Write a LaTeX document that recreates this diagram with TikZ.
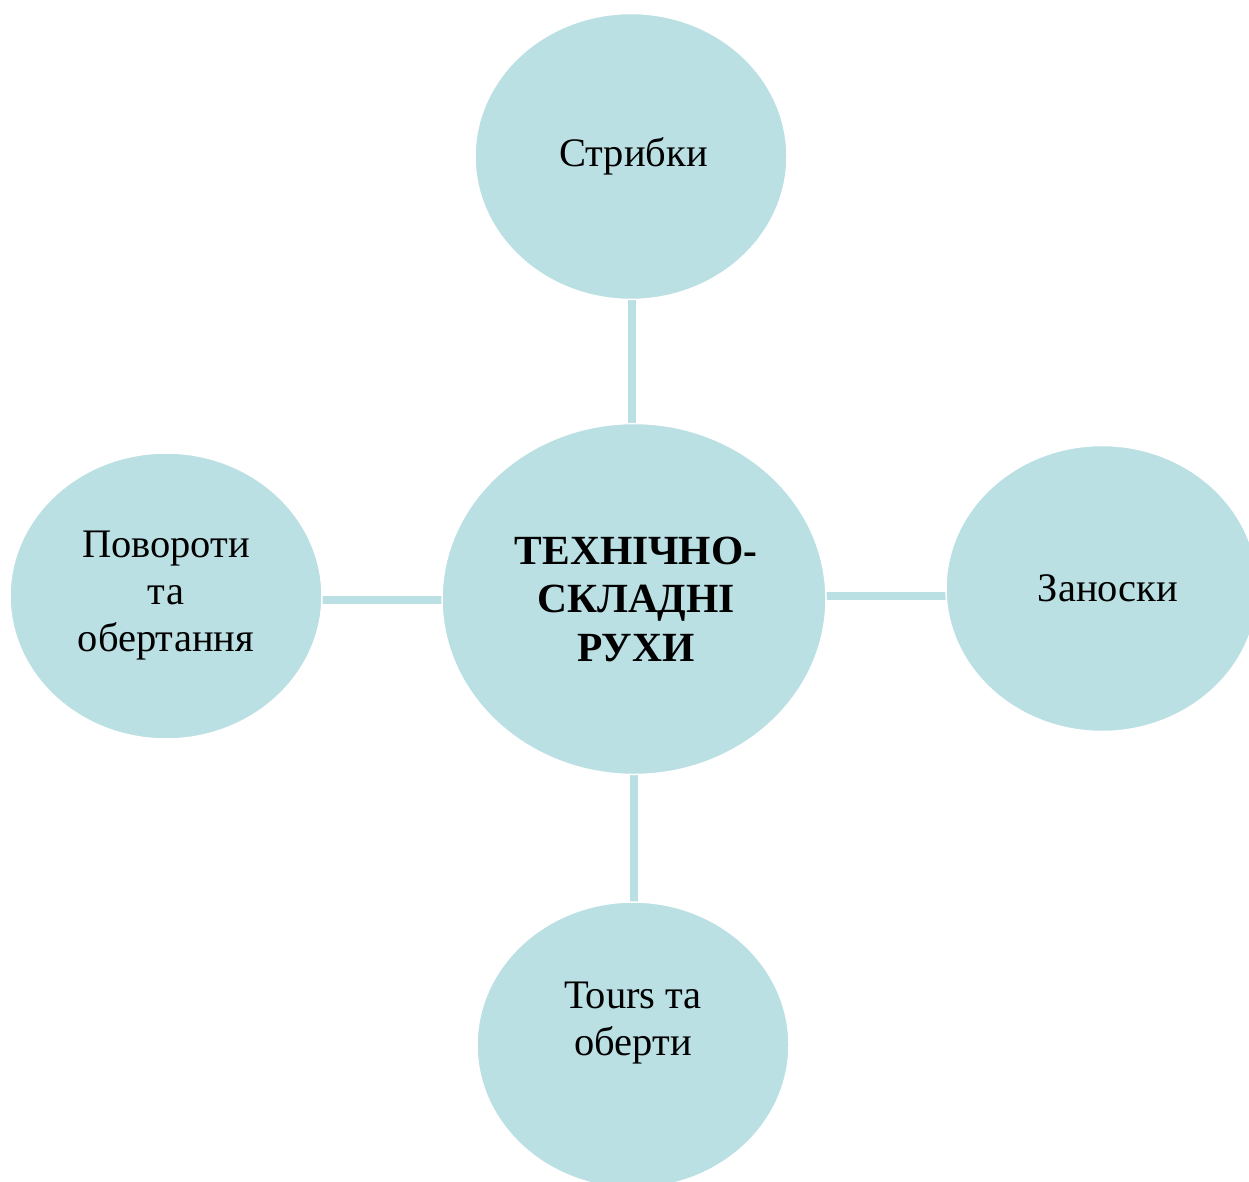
\documentclass[tikz,border=0pt]{standalone}
\usepackage{fontspec}
\setmainfont{Liberation Serif}
\usetikzlibrary{shapes.geometric}
\definecolor{bubble}{RGB}{186,224,228}
\begin{document}
\begin{tikzpicture}[x=1pt,y=-1pt,
  bubblestyle/.style={ellipse, fill=bubble, draw=white, line width=1.5pt,
    inner sep=0pt, align=center, font=\fontsize{40.5}{47}\selectfont},
  small/.style={bubblestyle, minimum width=312pt, minimum height=286pt},
  link/.style={draw=bubble, line width=8pt}]
  \useasboundingbox (0,0) rectangle (1249,1182);
  \clip (0,0) rectangle (1249,1182);

  % connectors sit under the bubbles
  \coordinate (pt) at (632,157);
  \coordinate (pc) at (634,598);
  \coordinate (pl) at (166,600);
  \coordinate (pr) at (1102,596);
  \coordinate (pb) at (634,1045);
  \path[link] (pt) -- (pt |- pc);
  \path[link] (pb) -- (pb |- pc);
  \path[link] (pl) -- (pl -| pc);
  \path[link] (pr) -- (pr -| pc);

  \node[bubblestyle, minimum width=384pt, minimum height=351pt,
        font=\fontsize{41.5}{48.5}\selectfont\bfseries] (ctr) at (634,599)
        {\hspace*{4pt}ТЕХНІЧНО-\\\hspace*{4pt}СКЛАДНІ\\\hspace*{4pt}РУХИ};
  \node[small] (top) at (631,156.5) {\hspace*{5pt}Стрибки};
  \node[small] (left) at (166,596) {Повороти\\та\\обертання};
  \node[small] (right) at (1102,588.5) {\hspace*{12pt}Заноски};
  \node[small] (bot) at (633,1045) {};
  \node[font=\fontsize{40.5}{47}\selectfont, align=center] (botlabel)
        at ([yshift=22pt]bot.center) {Tours та\\оберти};
\end{tikzpicture}
\end{document}
